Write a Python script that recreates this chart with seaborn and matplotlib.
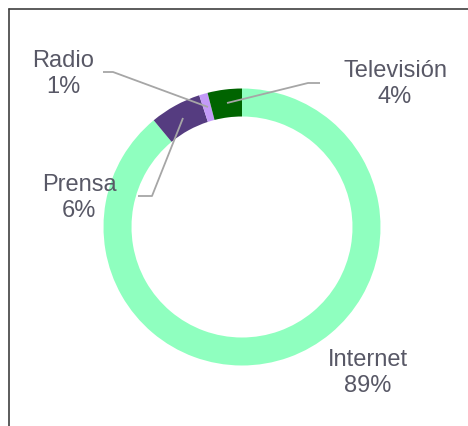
import matplotlib
matplotlib.use("Agg")
import matplotlib.pyplot as plt
from matplotlib.lines import Line2D
import seaborn as sns

canales = ["Internet", "Prensa", "Radio", "Televisión"]
porcentajes = [89, 6, 1, 4]
colores = ["#8FFFBF", "#553C80", "#C39BF7", "#006400"]

sns.set_theme(style="white")
plt.rcParams["font.family"] = ["Liberation Sans", "DejaVu Sans"]

W, H = 468, 426
CX, CY = 242, 227  # pie centre in image pixels


def px(x, y):
    # image pixels -> data coordinates centred on the pie
    return (x - CX, CY - y)


fig = plt.figure(figsize=(W / 100, H / 100), dpi=100)
ax = fig.add_axes([0, 0, 1, 1])

ax.pie(porcentajes, colors=colores, startangle=90, counterclock=False,
       radius=138.5, center=(0, 0), frame=True,
       wedgeprops=dict(width=28, linewidth=0))
ax.set_xlim(-CX, W - CX)
ax.set_ylim(CY - H, CY)
ax.set_aspect("equal")
ax.axis("off")

txt = "#585866"
fs = 17
etiquetas = {
    "Internet": (368, 373),
    "Prensa": (79, 198),
    "Radio": (63, 74),
    "Televisión": (395, 84),
}
for nombre, valor in zip(canales, porcentajes):
    x, y = etiquetas[nombre]
    ax.text(*px(x, y), f"{nombre}\n{valor}%", ha="center", va="center",
            fontsize=fs, color=txt, linespacing=1.23)

# leader lines
guias = [
    [(103, 72), (113, 72), (208, 107)],
    [(227, 103), (308, 83), (320, 83)],
    [(183, 118), (152, 196), (138, 196)],
]
for pts in guias:
    xs, ys = zip(*[px(a, b) for a, b in pts])
    ax.plot(xs, ys, color="#A6A6A6", lw=1.3, solid_capstyle="butt")

# chart frame (only left and top edges visible)
fx, fy = 9 / W, 1 - 9 / H
fig.add_artist(Line2D([fx, fx], [0, fy], color="#404040", lw=1.2,
                      transform=fig.transFigure))
fig.add_artist(Line2D([fx, 1], [fy, fy], color="#404040", lw=1.2,
                      transform=fig.transFigure))

fig.savefig("out.png", dpi=100)
